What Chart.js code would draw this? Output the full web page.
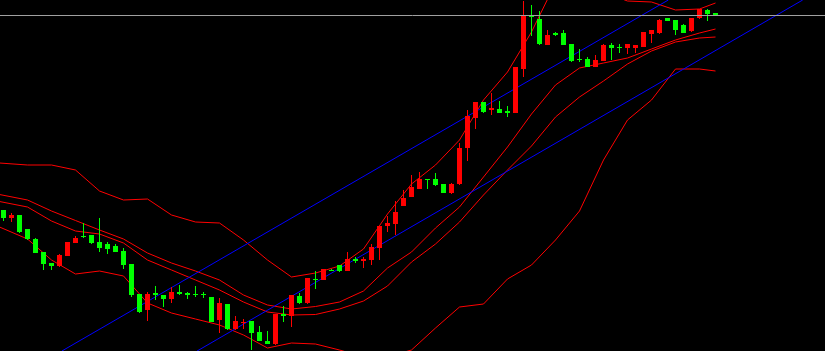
<!DOCTYPE html>
<html>
<head>
<meta charset="utf-8">
<script src="https://cdn.jsdelivr.net/npm/chart.js@4.4.1/dist/chart.umd.min.js"></script>
<style>
  html, body { margin: 0; padding: 0; background: #000; overflow: hidden; }
  #wrap { width: 825px; height: 351px; }
</style>
</head>
<body>
<div id="wrap"><canvas id="chart" width="825" height="351"></canvas></div>
<script>
// candles, one per bar (price units)
const opens = [141,133,136,122,112,99,88,85,95,108, 115,116,109,107,105,100,87,57,41,58,
  56,52,59,58,57,57,54,31,47,22, 28,30,19,10,7,37,35,55,48,72,
  71,81,86,80,92,90,91,103,125,127, 145,154,162,172,172,167,158,167,203,233,
  249,241,242,240,238,282,336,332,306,318, 318,307,292,292,284,290,306,304,303,303,
  304,317,318,333,331,326,320,333,341,338];
const highs = [141,138,136,122,113,99,88,97,109,115, 128,116,133,109,107,103,87,57,59,65,
  56,64,66,59,65,59,54,53,47,35, 32,30,25,20,37,45,56,58,73,80,
  82,82,86,99,94,94,107,125,135,150, 161,176,179,172,178,167,168,208,241,249,
  249,258,250,245,284,350,346,340,321,319, 321,307,302,294,296,307,308,307,307,306,
  319,321,332,333,331,327,333,342,342,338];
const lows = [130,129,118,111,98,81,81,84,95,108, 113,107,99,97,99,82,54,38,30,51,
  44,48,56,52,54,53,29,18,21,21, 22,1,10,7,6,29,24,47,47,62,
  71,80,79,80,88,83,86,91,119,116, 145,154,162,162,165,158,157,166,190,222,
  238,236,238,234,238,274,315,306,306,315, 306,289,289,284,284,290,291,298,297,298,
  304,308,317,330,316,318,319,332,330,335];
const closes = [133,136,119,112,98,87,85,96,109,113, 114,108,103,102,99,86,56,39,57,56,
  52,59,57,56,56,56,29,48,22,30, 29,18,10,7,37,35,56,48,73,71,
  82,80,80,92,90,92,104,125,128,139, 153,164,172,171,166,158,167,203,235,249,
  239,243,238,238,284,336,334,307,316,316, 306,290,291,284,291,306,303,303,307,306,
  319,321,331,330,321,318,333,342,337,335];

// band lines, read at these bar indices
const bandIdx = [-0.5,3,6,9,12,15,18,21,24,27,30,33,36,39,42,45,48,51,54,57,60,63,66,69,72,75,78,81,84,87,89];
const upperBand = [188,186,186,181,160,151,152,136,129,128,111,91,74,78,85,102,137,167,186,211,251,279,319,368,379,359,350,349,341,342,348];
const midFast = [156.5,151,140,130.5,121,112,98,88,80,71,56,46,42,44.5,49,60,83,99,123,144,174,204,237,266,283,288,293,302,311,318,322];
const midSlow = [149.5,144,130,120,117,108,91,81,71,61,49,39,36,36.5,42,50,65,89,107,129,156,181,205,234,254,270,287,300,309,313,314];
const lowerBand = [124,112,91,77,80,75,48,38,32,26,16,3,8,7,1,-6,-6,1,23,44,47,72,86,111,140,191,231,251,282,282,280];

// trend lines: [startIdx, startPrice, endIdx, endPrice]
const trendUpper = [7.3, 0, 83.1, 351];
const trendLower = [24.2, 0, 99.9, 351];
const lastPrice = 335.5;

const RED = "#ff0000";
const GREEN = "#00ff00";

const candleColors = closes.map((c, i) => c >= opens[i] ? RED : GREEN);

function bandData(vals) {
  return vals.map((v, i) => ({ x: bandIdx[i], y: v }));
}
function bandSet(vals) {
  return {
    type: "line",
    data: bandData(vals),
    borderColor: RED,
    borderWidth: 1,
    pointRadius: 0,
    tension: 0,
    order: 4
  };
}
function trendSet(t) {
  return {
    type: "line",
    data: [{ x: t[0], y: t[1] }, { x: t[2], y: t[3] }],
    borderColor: "#0000ff",
    borderWidth: 1,
    pointRadius: 0,
    order: 3
  };
}

const ctx = document.getElementById("chart").getContext("2d");
new Chart(ctx, {
  type: "bar",
  data: {
    datasets: [
      {
        type: "line",
        data: [{ x: -1, y: lastPrice }, { x: 104, y: lastPrice }],
        borderColor: "#a0a0a0",
        borderWidth: 1,
        pointRadius: 0,
        order: 0
      },
      {
        data: opens.map((o, i) => ({ x: i, y: [o, closes[i]] })),
        backgroundColor: candleColors,
        borderWidth: 0,
        barThickness: 5,
        grouped: false,
        inflateAmount: 0,
        order: 1
      },
      {
        data: lows.map((l, i) => ({ x: i, y: [l, highs[i]] })),
        backgroundColor: candleColors,
        borderWidth: 0,
        barThickness: 1,
        grouped: false,
        inflateAmount: 0,
        order: 2
      },
      trendSet(trendUpper),
      trendSet(trendLower),
      bandSet(upperBand),
      bandSet(midFast),
      bandSet(midSlow),
      bandSet(lowerBand)
    ]
  },
  options: {
    responsive: false,
    animation: false,
    devicePixelRatio: 1,
    layout: { padding: 0 },
    plugins: { legend: { display: false }, tooltip: { enabled: false } },
    scales: {
      x: { type: "linear", min: -0.4375, max: 102.6875, display: false, offset: false },
      y: { type: "linear", min: 0, max: 351, display: false }
    }
  }
});
</script>
</body>
</html>
